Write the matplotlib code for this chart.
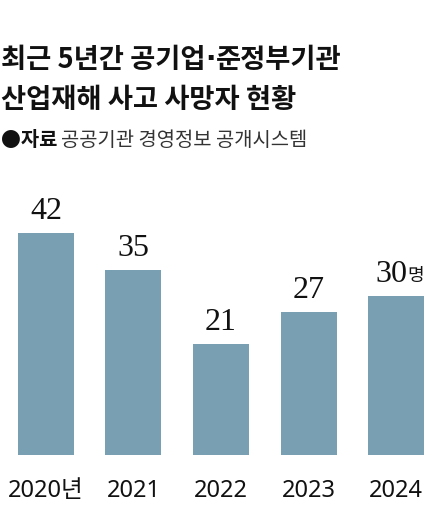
import matplotlib
matplotlib.use("Agg")
import matplotlib.pyplot as plt

years = ["2020", "2021", "2022", "2023", "2024"]
values = [42, 35, 21, 27, 30]
year_suffix = ["년", "", "", "", ""]
value_suffix = ["", "", "", "", "명"]
title_parts = ["최근 5년간 공기업", "·", "준정부기관"]
title_line2 = "산업재해 사고 사망자 현황"
source_label = "●자료"
source_text = "공공기관 경영정보 공개시스템"

plt.rcParams['font.family'] = ['Noto Sans CJK KR', 'DejaVu Sans']
mixed = ['Noto Sans', 'Noto Sans CJK KR']

W, H = 441, 531
fig = plt.figure(figsize=(W/100, H/100), dpi=100)
fig.patch.set_facecolor("white")

step = 87.5
c0 = 46
ax_bottom_px = 455
ax_top_px = 180
ax = fig.add_axes([0, (H-ax_bottom_px)/H, 1, (ax_bottom_px-ax_top_px)/H])
ax.set_xlim(-c0/step, (W-c0)/step)
px_per_unit = 222/42
ax.set_ylim(0, (ax_bottom_px-ax_top_px)/px_per_unit)
x = list(range(len(years)))
ax.bar(x, values, width=56/step, color="#79a0b2")
ax.axis("off")

for i, v in enumerate(values):
    t = ax.annotate(str(v), (i, v), xytext=(0, 5), textcoords="offset points",
                    ha="center", va="bottom", fontsize=23,
                    family="Liberation Serif", color="#111111")
    if value_suffix[i]:
        t.set_ha("right")
        t.xyann = (8, 5)
        ax.annotate(value_suffix[i], (i, v), xytext=(8.5, 8.5), textcoords="offset points",
                    ha="left", va="bottom", fontsize=13, color="#111111")

for i, y in enumerate(years):
    lbl = y + year_suffix[i]
    ax.annotate(lbl, (i, 0), xytext=(0, -17), textcoords="offset points",
                ha="center", va="top", fontsize=17, family=mixed,
                color="#111111", annotation_clip=False)

fig.canvas.draw()
xpos = 1
fams = [None, "DejaVu Sans", None]
for part, fam in zip(title_parts, fams):
    kw = {"family": fam} if fam else {}
    tt = fig.text(xpos/W, 1-60/H, part, fontsize=19.7, fontweight="bold", va="center",
                  ha="left", color="#111111", **kw)
    fig.canvas.draw()
    xpos = tt.get_window_extent().x1

fig.text(1/W, 1-100/H, title_line2, fontsize=19.7, fontweight="bold", va="center", ha="left",
         color="#111111")
t = fig.text(1/W, 1-140/H, source_label, fontsize=14.3, fontweight="bold", va="center", ha="left", color="#111111")
fig.canvas.draw()
bb = t.get_window_extent()
fig.text((bb.x1+4)/W, 1-140/H, source_text, fontsize=14.3, fontweight="light", va="center", ha="left", color="#333333")

fig.savefig("out.png", dpi=100)
